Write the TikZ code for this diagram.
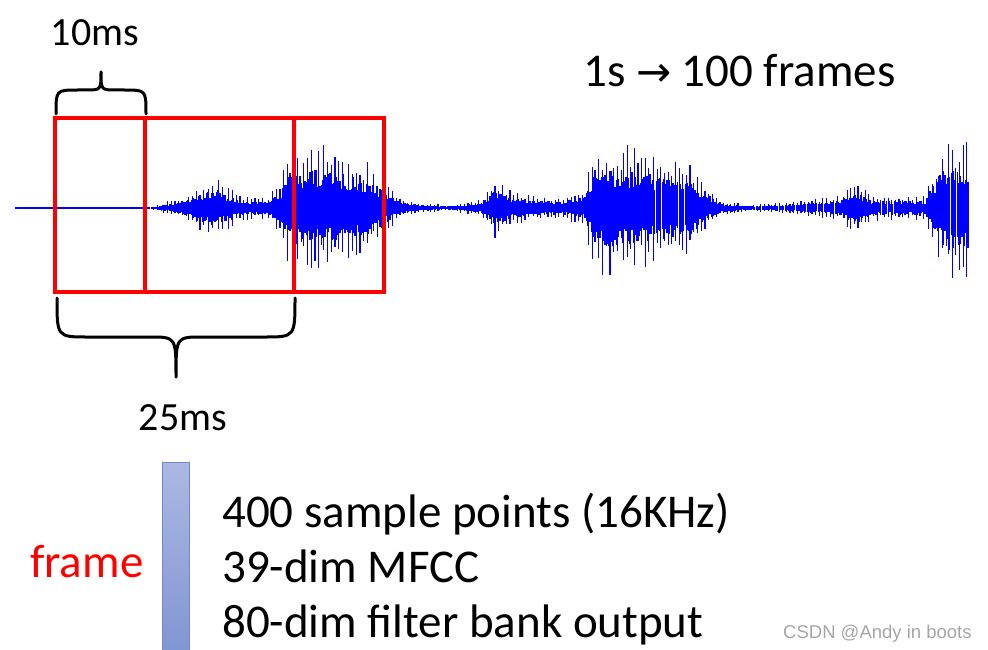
\documentclass[tikz,border=0pt]{standalone}
\usepackage{fontspec}
\setmainfont{Carlito}
\newfontfamily\wmfont{Liberation Sans}
\newfontfamily\arrowfont{DejaVu Sans}
\definecolor{barTop}{RGB}{171,184,226}
\definecolor{barBot}{RGB}{128,150,211}
\definecolor{barEdge}{RGB}{112,136,198}
\definecolor{wmgray}{RGB}{165,165,165}
\tikzset{
  wave/.style={blue, line width=1.1pt},
  framebox/.style={red, line width=4.5pt},
  bracepath/.style={black, line width=3pt, line cap=round, line join=round},
  bigtext/.style={font=\fontsize{47}{55}\selectfont, inner sep=0pt, anchor=base west},
  mstext/.style={font=\fontsize{40}{48}\selectfont, inner sep=0pt, anchor=base},
}
\begin{document}
\begin{tikzpicture}[x=1pt,y=-1pt]
\useasboundingbox (0,0) rectangle (988,650);
% waveform
\pgfmathsetseed{11}
\draw[wave] (15,208) -- (150,208);
\foreach \xa/\aa/\xb/\ab in {
 150/0.8/160/4, 160/4/185/13, 185/13/205/27, 205/27/215/33, 215/33/225/24,
 225/24/240/13, 240/13/265/11, 265/11/280/24, 280/24/290/64, 290/64/300/62,
 300/62/320/65, 320/65/345/57, 345/57/370/46, 370/46/385/26, 385/26/400/10,
 400/10/420/5, 420/5/450/3, 450/3/480/8, 480/8/495/30, 495/30/510/19,
 510/19/530/13, 530/13/560/11, 560/11/585/19, 585/19/595/68, 595/68/620/66,
 620/66/650/57, 650/57/690/47, 690/47/705/26, 705/26/720/8, 720/8/750/3,
 750/3/790/6, 790/6/840/13, 840/13/858/27, 858/27/870/13, 870/13/905/12,
 905/12/925/13, 925/13/935/46, 935/46/945/70, 945/70/968/68}{
  \pgfmathtruncatemacro\n{(\xb-\xa)/1.2}
  \foreach \i in {1,...,\n}{
    \pgfmathsetmacro\xx{\xa+(\xb-\xa)*\i/\n}
    \pgfmathsetmacro\am{\aa+(\ab-\aa)*\i/\n}
    \pgfmathtruncatemacro\sp{mod(\i,3)==0 ? 1 : 0}
    \ifnum\sp=1
      \pgfmathsetmacro\yt{208-\am*(0.55+0.45*rnd)}
      \pgfmathsetmacro\yb{208+\am*(0.55+0.47*rnd)}
    \else
      \pgfmathsetmacro\yt{208-\am*(0.32+0.28*rnd)}
      \pgfmathsetmacro\yb{208+\am*(0.32+0.28*rnd)}
    \fi
    \draw[wave] (\xx,\yt) -- (\xx,\yb);
  }
}
% frames
\draw[framebox] (55,118) rectangle (294,292);
\draw[framebox] (145,118) rectangle (384,292);
% top brace (10ms)
\draw[bracepath] (56,114) .. controls (56,90) .. (78,90) -- (86,90)
  .. controls (101,90) .. (101,72) .. controls (101,90) .. (116,90) -- (124,90)
  .. controls (146,90) .. (146,114);
% bottom brace (25ms)
\draw[bracepath] (57,298) .. controls (57,337) .. (88,337) -- (150,337)
  .. controls (176,337) .. (176,377) .. controls (176,337) .. (202,337) -- (264,337)
  .. controls (295,337) .. (295,298);
% labels
\node[mstext] (t10) at (95,46) {10ms};
\node[mstext] (t25) at (183,430) {25ms};
\node[bigtext] (title) at (583,87) {1s {\arrowfont\fontsize{42}{44}\selectfont →} 100 frames};
% bar
\shade[top color=barTop, bottom color=barBot] (162,462) rectangle (189,652);
\draw[barEdge, line width=1pt] (162,652) -- (162,462) -- (189,462) -- (189,652);
\node[bigtext, text=red] (frame) at (30,577) {frame};
\node[bigtext] (l1) at (222,527) {400 sample points (16KHz)};
\node[bigtext] (l2) at (222,582) {39-dim MFCC};
\node[bigtext] (l3) at (222,637) {80-dim filter bank output};
\node[font=\wmfont\fontsize{18.5}{20}\selectfont, text=wmgray, inner sep=0pt, anchor=base west] (wm) at (783,638) {CSDN @Andy in boots};
\end{tikzpicture}
\end{document}
